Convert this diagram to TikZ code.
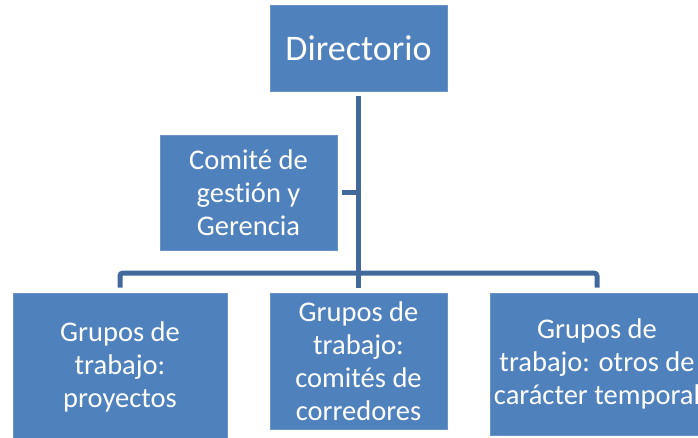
\documentclass[tikz,border=0pt]{standalone}
\usepackage{fontspec}
\setmainfont{Carlito}[Ligatures=NoCommon]
\definecolor{boxfill}{HTML}{4F81BD}
\definecolor{boxline}{HTML}{6A93C8}
\definecolor{connline}{HTML}{41699B}
\begin{document}
\begin{tikzpicture}[x=1pt,y=-1pt,
  orgbox/.style={draw=boxline, line width=0.8pt, fill=boxfill, text=white, align=center, inner sep=0pt},
  smalltext/.style={font=\fontsize{28.5}{33}\selectfont},
  conn/.style={draw=connline, line width=5pt, shorten <=5pt, shorten >=5pt, rounded corners=3pt}]
\useasboundingbox (0,0) rectangle (698,438);
\clip (0,0) rectangle (698,438);
\node[orgbox, minimum width=177pt, minimum height=86pt, font=\fontsize{36}{40}\selectfont] (dir) at (358.5,48) {Directorio};
\node[orgbox, smalltext, minimum width=177pt, minimum height=115pt] (com) at (248.5,192.5) {Comité de\\gestión y\\Gerencia};
\node[orgbox, smalltext, minimum width=214pt, minimum height=147pt] (left) at (120,366.5) {Grupos de\\trabajo:\\proyectos};
\node[orgbox, smalltext, minimum width=177pt, minimum height=136pt] (mid) at (358.5,361) {Grupos de\\trabajo:\\comités de\\corredores};
\node[orgbox, smalltext, minimum width=214pt, minimum height=142pt] (right) at (597,364) {Grupos de\\trabajo: otros de\\carácter temporal};
\coordinate (bus) at (358.5,273);
\draw[conn] (dir.south) -- (mid.north);
\draw[conn, shorten >=0pt] (com.east) -- (com.east -| dir.south);
\draw[conn] (left.north) -- (left.north |- bus) -- (right.north |- bus) -- (right.north);
\end{tikzpicture}
\end{document}
